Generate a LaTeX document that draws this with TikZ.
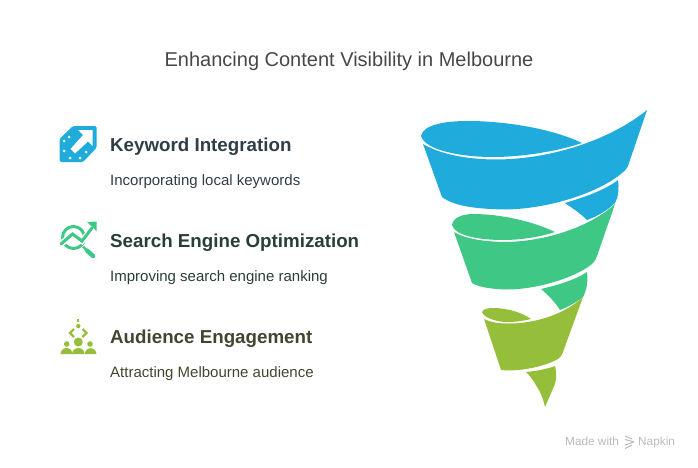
\documentclass[tikz,border=0pt]{standalone}
\usepackage{fontspec}
\setmainfont{Liberation Sans}
\definecolor{funnelblue}{HTML}{1FABDC}
\definecolor{funnelgreen}{HTML}{3EC785}
\definecolor{funnelolive}{HTML}{95BF3A}
\tikzset{
  headtxt/.style={anchor=base west,inner sep=0pt,font=\fontsize{18.75}{24}\selectfont\bfseries},
  subtxt/.style={anchor=base west,inner sep=0pt,font=\fontsize{15}{18}\selectfont},
  brandtxt/.style={anchor=base west,inner sep=0pt,text=black!27,font=\fontsize{11.8}{14}\selectfont},
}
\begin{document}
\begin{tikzpicture}[x=1pt,y=-1pt]
\useasboundingbox (0,0) rectangle (698,468);
\node[anchor=base,inner sep=0pt,text=black!72,font=\fontsize{20}{24}\selectfont] (title) at (349,67) {Enhancing Content Visibility in Melbourne};
\node[headtxt,text={rgb,255:red,47;green,62;blue,70}] (kw) at (110,151) {Keyword Integration};
\node[subtxt,text={rgb,255:red,47;green,62;blue,70}] (kwsub) at (110,185) {Incorporating local keywords};
\node[headtxt,text={rgb,255:red,40;green,62;blue,56}] (se) at (110,247) {Search Engine Optimization};
\node[subtxt,text={rgb,255:red,40;green,62;blue,56}] (sesub) at (110,281) {Improving search engine ranking};
\node[headtxt,text={rgb,255:red,66;green,69;blue,47}] (au) at (110,343) {Audience Engagement};
\node[subtxt,text={rgb,255:red,66;green,69;blue,47}] (ausub) at (110,377) {Attracting Melbourne audience};
\node[brandtxt] (made) at (565,445) {Made with};
\node[brandtxt] (nap) at (638,445) {Napkin};
\draw[black!27,line width=1pt] (625,436) -- (632,439) (625,439.5) -- (634,442) (634,442) -- (625,445) (632,445) -- (625,448.5);
% blue
\fill[funnelblue] (421,136) .. controls (423,124) and (448,121) .. (467,121) .. controls (510,121) and (555,130) .. (582,143) .. controls (555,152) and (520,157) .. (493,157) .. controls (460,157) and (425,150) .. (421,136) -- cycle;
\fill[funnelblue] (423,144) .. controls (440,154) and (465,159) .. (493,159.5) .. controls (550,160) and (610,140) .. (647,110) -- (629,163) .. controls (628,167) and (626,170) .. (622,173) .. controls (600,192) and (550,209) .. (505,209.5) .. controls (480,209) and (455,207) .. (442,197) -- cycle;
\fill[funnelblue] (565,203) .. controls (585,197) and (605,190) .. (618,180) .. controls (619,188) and (619,195) .. (615,203) .. controls (608,210) and (598,216) .. (587,220) .. controls (580,213) and (572,208) .. (565,203) -- cycle;
% green
\fill[funnelgreen] (452,225) .. controls (453,217) and (464,214) .. (473,214) .. controls (500,214) and (532,221) .. (555,232) .. controls (540,237) and (520,240) .. (503,240) .. controls (480,240) and (455,236) .. (452,225) -- cycle;
\fill[funnelgreen] (454,232) .. controls (465,239) and (485,241.5) .. (503,242) .. controls (545,242) and (590,227) .. (615,204) -- (597,256) .. controls (596,259) and (595,261) .. (592,264) .. controls (575,278) and (535,290) .. (505,289.5) .. controls (495,289) and (480,288) .. (472,283) -- cycle;
\fill[funnelgreen] (541,289) .. controls (558,285) and (575,280) .. (587,272) .. controls (588,280) and (587,290) .. (583,297) .. controls (577,302) and (568,307) .. (560,310) .. controls (555,302) and (548,295) .. (541,289) -- cycle;
% olive
\fill[funnelolive] (482,312) .. controls (483,309) and (488,308) .. (493,308) .. controls (508,308) and (523,313) .. (531,319) .. controls (523,321) and (515,322) .. (507,322) .. controls (497,322) and (484,318) .. (482,312) -- cycle;
\fill[funnelolive] (484,319) .. controls (490,322) and (498,323.5) .. (507,323.5) .. controls (535,324) and (565,314) .. (583,297) -- (564,349) .. controls (563,353) and (561,357) .. (558,359) .. controls (548,365) and (530,369) .. (518,370) .. controls (512,370.5) and (506,370.5) .. (501,370) -- cycle;
\fill[funnelolive] (526,372) .. controls (537,371) and (547,369) .. (555,366) .. controls (557,373) and (556,380) .. (555,384) -- (545,407) .. controls (543,398) and (540,391) .. (537,387) .. controls (534,381) and (530,376) .. (526,372) -- cycle;
% keyword icon
\fill[funnelblue,rounded corners=1.5pt] (73,126) -- (96.5,126) -- (96.5,148) -- (83,162) -- (59.5,162) -- (59.5,139) -- cycle;
\fill[white] (92.5,130) -- (92.5,146) -- (88,141.5) -- (75,153.5) -- (70.5,149) -- (83,135) -- (78,130) -- cycle;
\foreach \px/\py in {64/141, 69/137, 64/151, 70/158, 80/158, 86/152}
  \fill[white] (\px,\py) circle (1.5);
% search icon
\draw[funnelgreen,line width=3pt] (73.5,237.5) circle (11);
\draw[white,line width=6pt] (60,245) -- (72.5,234) -- (82,241) -- (92,229);
\draw[funnelgreen,line width=3pt,line cap=round] (61,244) -- (72.5,234) -- (82,241) -- (92,228);
\fill[funnelgreen] (96.5,221.5) -- (96.5,231) -- (87,222) -- cycle;
\draw[funnelgreen,line width=2.4pt] (83,246.5) -- (86,249.5);
\draw[funnelgreen,line width=4.4pt,line cap=round] (87,250.5) -- (93,256);
% audience icon
\draw[funnelolive,line width=1.8pt] (78.3,318.5) -- (78.3,322);
\fill[funnelolive] (78.3,326) circle (2.2);
\draw[funnelolive,line width=2.4pt] (74,329) -- (70,333) -- (74,337);
\draw[funnelolive,line width=2.4pt] (82.5,329) -- (86.5,333) -- (82.5,337);
\fill[funnelolive] (78.3,342) circle (4.5);
\fill[funnelolive] (66.7,344) circle (2.8);
\fill[funnelolive] (90,344) circle (2.8);
\fill[funnelolive] (60.5,354) arc[start angle=180,end angle=360,radius=6] -- cycle;
\fill[funnelolive] (72,354) arc[start angle=180,end angle=360,x radius=6.3,y radius=6] -- cycle;
\fill[funnelolive] (84.8,354) arc[start angle=180,end angle=360,radius=5.8] -- cycle;
\end{tikzpicture}
\end{document}
